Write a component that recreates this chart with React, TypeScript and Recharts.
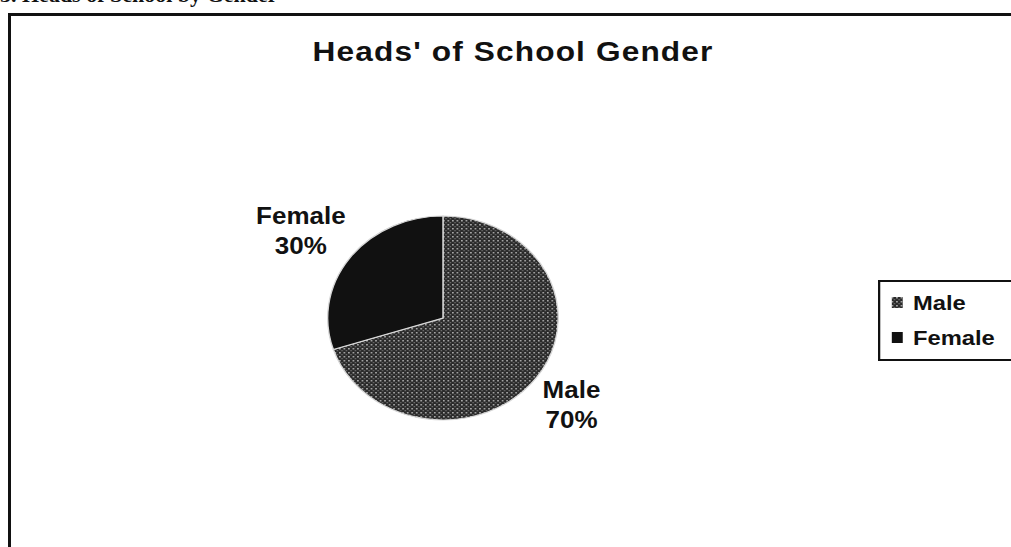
import React from "react";
import { PieChart, Pie, Cell, Legend } from "recharts";

// values
const categories = ["Male", "Female"];
const shares = [70, 30];
const title = "Heads' of School Gender";
const caption = "3. Heads of School by Gender";

const data = categories.map((name, i) => ({ name, value: shares[i] }));

const FILLS = ["url(#maleDots)", "#111111"];
const FONT = '"Liberation Sans", Arial, sans-serif';
const RADIAN = Math.PI / 180;

// the scan is stretched sideways, so the whole chart is drawn 1.13x wider
const STRETCH = 1.13;

const renderLabel = (props: any) => {
  const { cx, cy, midAngle, outerRadius, name, value } = props;
  const r = outerRadius + 46;
  const x = cx + r * Math.cos(-midAngle * RADIAN) - 6;
  const y = cy + r * Math.sin(-midAngle * RADIAN);
  return (
    <text x={x} y={y} textAnchor="middle" fontFamily={FONT} fontWeight="bold" fontSize={23} fill="#111">
      <tspan x={x} y={y - 7}>{name}</tspan>
      <tspan x={x} y={y + 23}>{value}%</tspan>
    </text>
  );
};

const renderLegend = () => (
  <div
    style={{
      border: "2px solid #111",
      borderRight: "none",
      height: 74,
      paddingTop: 3,
      paddingLeft: 10,
      fontFamily: FONT,
      fontWeight: "bold",
      fontSize: 21,
      color: "#111",
      background: "#fff",
    }}
  >
    {categories.map((name, i) => (
      <div key={name} style={{ display: "flex", alignItems: "center", height: 35 }}>
        <svg width={10} height={11} style={{ marginRight: 9 }}>
          <rect x={0} y={0} width={10} height={11} fill={FILLS[i]} />
        </svg>
        <span>{name}</span>
      </div>
    ))}
  </div>
);

export default function App() {
  return (
    <div
      style={{
        position: "absolute",
        left: 0,
        top: 0,
        width: 1011,
        height: 547,
        overflow: "hidden",
        background: "#fff",
      }}
    >
      <div
        style={{
          position: "absolute",
          left: 0,
          top: -16,
          fontFamily: '"Liberation Serif", "Times New Roman", serif',
          fontWeight: "bold",
          fontSize: 22,
          lineHeight: "22px",
          whiteSpace: "nowrap",
          color: "#111",
        }}
      >
        {caption}
      </div>
      <div
        style={{
          position: "absolute",
          left: 8,
          top: 13,
          width: 1030,
          height: 560,
          border: "3px solid #111",
        }}
      />
      <div
        style={{
          position: "absolute",
          left: 0,
          top: 0,
          width: 895,
          height: 547,
          transform: `scaleX(${STRETCH})`,
          transformOrigin: "0 0",
        }}
      >
        <div
          style={{
            position: "absolute",
            left: 0,
            top: 38,
            width: 908,
            textAlign: "center",
            fontFamily: FONT,
            fontWeight: "bold",
            fontSize: 28,
            lineHeight: "28px",
            letterSpacing: 1,
            color: "#111",
          }}
        >
          {title}
        </div>
        <PieChart width={895} height={547} margin={{ top: 0, right: 0, bottom: 0, left: 0 }}>
          <defs>
            <pattern id="maleDots" width={4} height={4} patternUnits="userSpaceOnUse">
              <rect x={0} y={0} width={4} height={4} fill="#2a2a2a" />
              <rect x={0} y={0} width={1.5} height={1.5} fill="#a8a8a8" />
              <rect x={2} y={2} width={1.3} height={1.3} fill="#6e6e6e" />
            </pattern>
          </defs>
          <Pie
            data={data}
            dataKey="value"
            nameKey="name"
            cx={392}
            cy={318}
            outerRadius={102}
            startAngle={90}
            endAngle={-270}
            stroke="#d8d8d8"
            strokeWidth={1.2}
            label={renderLabel}
            labelLine={false}
            isAnimationActive={false}
          >
            {data.map((_, i) => (
              <Cell key={`cell-${i}`} fill={FILLS[i]} />
            ))}
          </Pie>
          <Legend
            layout="vertical"
            content={renderLegend}
            wrapperStyle={{ left: 777, top: 280, width: 130, height: 80 }}
          />
        </PieChart>
      </div>
    </div>
  );
}
